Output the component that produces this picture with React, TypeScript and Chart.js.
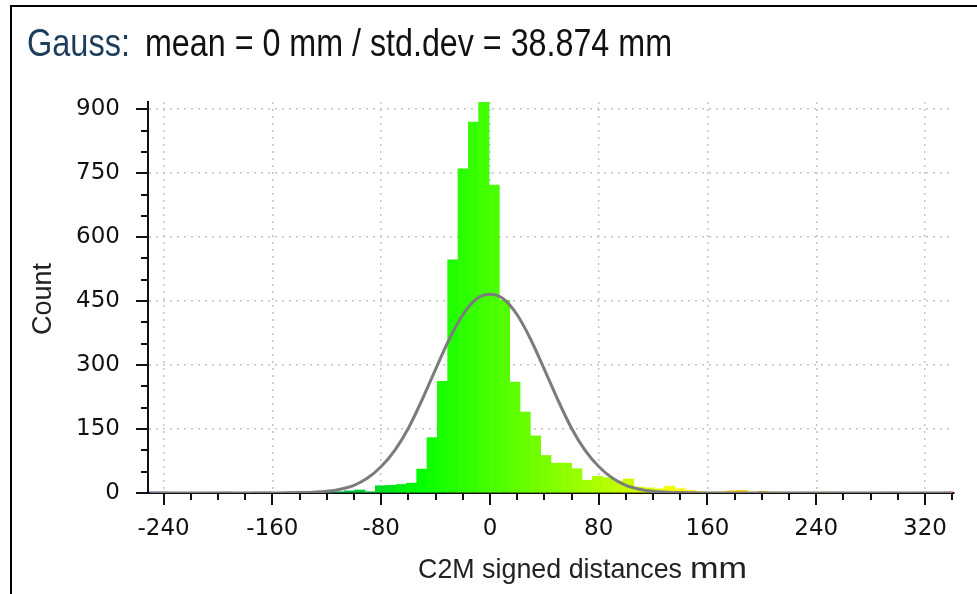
import React, { useEffect, useRef } from "react";
import { Chart, registerables } from "chart.js";

Chart.register(...registerables);

// Histogram bin centres (mm) and counts
const binCenters = [
  -247.7, -240.1, -232.5, -224.9, -217.3, -209.7, -202.1, -194.5, -186.9, -179.3,
  -171.7, -164.1, -156.5, -148.9, -141.3, -133.7, -126.1, -118.5, -110.9, -103.3,
  -95.7, -88.1, -80.5, -72.9, -65.3, -57.7, -50.1, -42.5, -34.9, -27.3,
  -19.7, -12.1, -4.5, 3.1, 10.7, 18.3, 25.9, 33.5, 41.1, 48.7,
  56.3, 63.9, 71.5, 79.1, 86.7, 94.3, 101.9, 109.5, 117.1, 124.7,
  132.3, 139.9, 147.5, 155.1, 162.7, 170.3, 177.9, 185.5, 193.1, 200.7,
  208.3, 215.9, 223.5, 231.1, 238.7, 246.3, 253.9, 261.5, 269.1, 276.7,
  284.3, 291.9, 299.5, 307.1, 314.7, 322.3, 329.9, 337.5,
];
const binCounts = [
  2, 2, 0, 0, 0, 0, 1, 2, 0, 0,
  2, 2, 0, 1, 1, 1, 1, 2, 3, 5,
  7, 3, 17, 18, 20, 23, 56, 130, 262, 547,
  760, 870, 917, 722, 452, 260, 190, 134, 88, 70,
  70, 57, 30, 39, 36, 28, 33, 14, 12, 10,
  16, 10, 6, 3, 2, 3, 5, 6, 2, 4,
  2, 2, 1, 2, 1, 2, 2, 1, 1, 1,
  1, 2, 1, 0, 1, 1, 0, 2,
];

// Gaussian curve samples
const gaussX = [
  -250, -240, -230, -220, -210, -200, -190, -180, -170, -160,
  -150, -140, -130, -120, -110, -100, -90, -80, -70, -60,
  -50, -40, -30, -20, -10, 0, 10, 20, 30, 40,
  50, 60, 70, 80, 90, 100, 110, 120, 130, 140,
  150, 160, 170, 180, 190, 200, 210, 220, 230, 240,
  250, 260, 270, 280, 290, 300, 310, 320, 330, 340,
];
const gaussY = [
  0, 0, 0, 0, 0, 0, 0, 0, 0, 0.2,
  0.4, 1, 2, 4, 9, 18, 35, 62, 100, 152,
  218, 290, 360, 418, 455, 466, 455, 418, 360, 290,
  218, 152, 100, 62, 35, 18, 9, 4, 2, 1,
  0.4, 0.2, 0, 0, 0, 0, 0, 0, 0, 0,
  0, 0, 0, 0, 0, 0, 0, 0, 0, 0,
];

// Tick labels
const xTickValues = [-240, -160, -80, 0, 80, 160, 240, 320];
const yTickValues = [0, 150, 300, 450, 600, 750, 900];

const titleLead = "Gauss:";
const titleRest = "mean = 0 mm / std.dev = 38.874 mm";
const xAxisTitle = "C2M signed distances";
const xAxisUnit = "mm";
const yAxisTitle = "Count";

const X_MIN = -251.5;
const X_MAX = 341.3;
const Y_MAX = 917;

function scaleColor(v: number): string {
  const t = Math.min(1, Math.max(0, (v - X_MIN) / (X_MAX - X_MIN)));
  const stops = [
    [0, 0, 255],
    [0, 255, 0],
    [255, 255, 0],
    [255, 0, 0],
  ];
  const s = t * 3;
  const i = Math.min(2, Math.floor(s));
  const f = s - i;
  const a = stops[i];
  const b = stops[i + 1];
  const c = a.map((av, k) => Math.round(av + (b[k] - av) * f));
  return `rgb(${c[0]},${c[1]},${c[2]})`;
}

function drawFit(
  ctx: CanvasRenderingContext2D,
  text: string,
  x: number,
  baseline: number,
  width: number,
  font: string,
  color: string,
  rotate = false
) {
  ctx.save();
  ctx.font = font;
  ctx.fillStyle = color;
  ctx.textAlign = "left";
  ctx.textBaseline = "alphabetic";
  const w = ctx.measureText(text).width;
  ctx.translate(x, baseline);
  if (rotate) ctx.rotate(-Math.PI / 2);
  ctx.scale(width / w, 1);
  ctx.fillText(text, 0, 0);
  ctx.restore();
}

const decorPlugin = {
  id: "decor",
  afterDraw(chart: any) {
    const ctx: CanvasRenderingContext2D = chart.ctx;
    const xs = chart.scales.x;
    const ys = chart.scales.y;
    ctx.save();
    // frame
    ctx.fillStyle = "#000";
    ctx.fillRect(10, 5, 967, 2);
    ctx.fillRect(10, 5, 2, 589);
    // ticks (major + minor)
    ctx.strokeStyle = "#111";
    ctx.lineWidth = 2;
    for (let v = Math.ceil(xs.min / 20) * 20; v <= xs.max + 0.001; v += 20) {
      const px = Math.round(xs.getPixelForValue(v));
      const len = v % 80 === 0 ? 12 : 7;
      ctx.beginPath();
      ctx.moveTo(px, xs.top);
      ctx.lineTo(px, xs.top + len);
      ctx.stroke();
    }
    for (let v = 0; v <= ys.max + 0.001; v += 50) {
      const py = Math.round(ys.getPixelForValue(v));
      const len = v % 150 === 0 ? 12 : 7;
      ctx.beginPath();
      ctx.moveTo(ys.right, py);
      ctx.lineTo(ys.right - len, py);
      ctx.stroke();
    }
    ctx.restore();
    // texts
    drawFit(ctx, titleLead, 27, 56, 103, '38px "Liberation Sans"', "#1c3d5c");
    drawFit(ctx, titleRest, 145, 56, 527, '38px "Liberation Sans"', "#111");
    drawFit(ctx, yAxisTitle, 51, 335, 72, '27px "Liberation Sans"', "#222", true);
    drawFit(ctx, xAxisTitle, 418, 578, 264, '28px "Liberation Sans"', "#222");
    drawFit(ctx, xAxisUnit, 690, 578, 57, '30px "Liberation Sans"', "#222");
  },
};

export default function App() {
  const ref = useRef<HTMLCanvasElement | null>(null);
  useEffect(() => {
    const canvas = ref.current;
    if (!canvas) return;
    const chart = new Chart(canvas, {
      type: "bar",
      data: {
        datasets: [
          {
            type: "line",
            data: gaussX.map((x, i) => ({ x, y: gaussY[i] })),
            borderColor: "#7c7c7c",
            borderWidth: 3,
            pointRadius: 0,
            cubicInterpolationMode: "monotone",
            order: 0,
          } as any,
          {
            type: "bar",
            data: binCenters.map((x, i) => ({ x, y: binCounts[i] })),
            backgroundColor: binCenters.map(scaleColor),
            borderWidth: 0,
            barPercentage: 1,
            categoryPercentage: 1,
            order: 1,
          } as any,
        ],
      },
      options: {
        responsive: false,
        animation: false,
        devicePixelRatio: 1,
        plugins: {
          legend: { display: false },
          tooltip: { enabled: false },
          title: { display: false },
        },
        layout: { padding: { left: 0, right: 23, top: 102, bottom: 0 } },
        scales: {
          x: {
            type: "linear",
            min: X_MIN,
            max: X_MAX,
            offset: false,
            afterBuildTicks: (s: any) => {
              s.ticks = xTickValues.map((value) => ({ value }));
            },
            ticks: {
              autoSkip: false,
              maxRotation: 0,
              padding: 10,
              color: "#111",
              font: { family: "DejaVu Sans", size: 23 },
            },
            grid: {
              color: "#c4c4c4",
              lineWidth: 1.5,
              tickLength: 12,
              tickColor: "rgba(0,0,0,0)",
              offset: false,
            },
            border: { color: "#111", width: 2, dash: [2, 5] },
            afterFit: (s: any) => {
              s.height = 101;
            },
          },
          y: {
            type: "linear",
            min: 0,
            max: Y_MAX,
            afterBuildTicks: (s: any) => {
              s.ticks = yTickValues.map((value) => ({ value }));
            },
            ticks: {
              autoSkip: false,
              padding: 16,
              color: "#111",
              font: { family: "DejaVu Sans", size: 23 },
            },
            grid: {
              color: "#c4c4c4",
              lineWidth: 1.5,
              tickLength: 12,
              tickColor: "rgba(0,0,0,0)",
            },
            border: { color: "#111", width: 2, dash: [2, 5] },
            afterFit: (s: any) => {
              s.width = 148;
            },
          },
        },
      } as any,
      plugins: [decorPlugin],
    });
    return () => chart.destroy();
  }, []);
  return (
    <div style={{ position: "fixed", left: 0, top: 0, width: 977, height: 594, background: "#fff" }}>
      <canvas ref={ref} width={977} height={594} style={{ display: "block" }} />
    </div>
  );
}
